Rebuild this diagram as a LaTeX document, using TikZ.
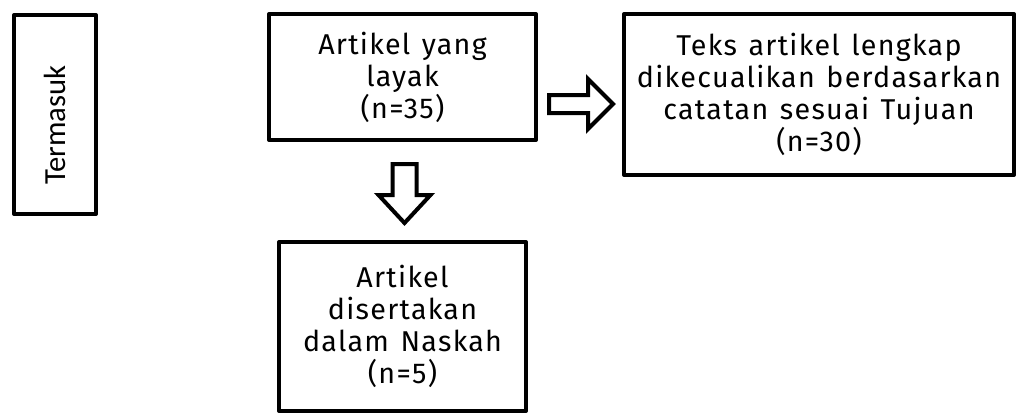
\documentclass[tikz,border=0pt]{standalone}
\usepackage{fontspec}
\setmainfont[LetterSpace=4.5, WordSpace=1.3]{Fira Sans}
\newfontfamily\calfont{Carlito}
\usetikzlibrary{positioning}
\usetikzlibrary{calc}

\tikzset{
    box/.style={draw=black, line width=3pt, line join=round, fill=white, align=center, inner sep=0pt,
        font=\fontsize{21.5}{24}\selectfont},
    blockarrow/.style={draw=black, line width=3pt, line join=miter, fill=white}
}

\begin{document}
\begin{tikzpicture}[x=0.75pt, y=-0.75pt]
    \useasboundingbox (0,0) rectangle (1020,418);

    % side label
    \node[box, minimum width=61.5pt, minimum height=149.25pt, font=\calfont\fontsize{23}{27}\selectfont] (incl) at (55,114.5) {\rotatebox{90}{Termasuk\hspace{16pt}}};

    % main boxes
    \node[box, minimum width=200.25pt, minimum height=94.5pt] (elig) at (402.5,77) {Artikel yang\\layak\\(n=35)};
    \node[box, minimum width=292.5pt, minimum height=120.75pt] (excl) at (819,94.5) {Teks artikel lengkap\\dikecualikan berdasarkan\\catatan sesuai Tujuan\\(n=30)};
    \node[box, minimum width=185.25pt, minimum height=126.75pt] (incd) at (402.5,326.5) {Artikel\\disertakan\\dalam Naskah\\(n=5)};

    % block arrows
    \coordinate (ra) at (549,104);
    \draw[blockarrow] (ra) ++(0,-9) -- ++(39,0) -- ++(0,-16) -- ++(25,25) -- ++(-25,25) -- ++(0,-16) -- ++(-39,0) -- cycle;

    \coordinate (da) at (404.5,164);
    \draw[blockarrow] (da) ++(-12,0) -- ++(0,31) -- ++(-14,0) -- ++(26,28) -- ++(26,-28) -- ++(-14,0) -- ++(0,-31) -- cycle;
\end{tikzpicture}
\end{document}
